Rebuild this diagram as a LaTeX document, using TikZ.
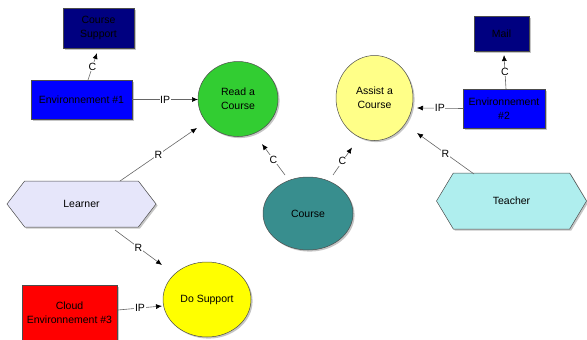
\documentclass[tikz,border=0pt]{standalone}
\usepackage{fontspec}
\setmainfont{Liberation Sans}
\usetikzlibrary{arrows.meta,shapes.geometric,shapes.symbols,shadows}
\definecolor{navyb}{RGB}{0,0,128}
\definecolor{blueb}{RGB}{0,0,255}
\definecolor{greenc}{RGB}{50,205,50}
\definecolor{ltyellow}{RGB}{255,255,136}
\definecolor{tealc}{RGB}{56,142,142}
\definecolor{lavend}{RGB}{230,230,250}
\definecolor{paleturq}{RGB}{175,238,238}
\definecolor{redb}{RGB}{255,0,0}
\definecolor{yellowc}{RGB}{255,255,0}
\begin{document}
\begin{tikzpicture}[x=1pt,y=-1pt,
  shp/.style={draw=black!70, line width=0.5pt, inner sep=1pt, align=center,
    font=\fontsize{10.5}{14}\selectfont,
    drop shadow={shadow xshift=1.6pt, shadow yshift=-1.6pt, fill=black!45, opacity=0.5}},
  boxn/.style={shp, rectangle},
  ell/.style={shp, ellipse},
  hexa/.style={shp, signal, signal to=west and east, signal from=nowhere},
  conn/.style={draw=black!60, line width=0.6pt, -{Latex[length=6pt,width=5pt,color=black]}},
  lbl/.style={fill=white, inner sep=0.6pt, font=\fontsize{10.5}{12}\selectfont}]
\useasboundingbox (0,0) rectangle (587,340);
% nodes
\node[boxn, fill=navyb, minimum width=71pt, minimum height=40pt] (csup) at (98.5,28) {Course\\Support};
\node[boxn, fill=blueb, minimum width=101pt, minimum height=39pt] (env1) at (81.5,99.5) {Environnement \#1};
\node[ell, fill=greenc, minimum width=80pt, minimum height=75pt] (read) at (238,99) {Read a\\Course};
\node[ell, fill=ltyellow, minimum width=77pt, minimum height=85pt] (assist) at (374.5,98) {Assist a\\Course};
\node[boxn, fill=navyb, minimum width=55pt, minimum height=35pt] (mail) at (501.5,33.5) {Mail};
\node[boxn, fill=blueb, minimum width=82pt, minimum height=39pt] (env2) at (504,108.5) {Environnement\\\#2};
\node[ell, fill=tealc, minimum width=90pt, minimum height=73pt] (course) at (308,213.5) {Course};
\node[hexa, fill=lavend, minimum width=149pt, minimum height=46pt, signal pointer angle=105] (learner) at (81.5,204) {Learner};
\node[hexa, fill=paleturq, minimum width=150pt, minimum height=56pt, signal pointer angle=118] (teacher) at (511.5,201) {Teacher};
\node[boxn, fill=redb, minimum width=95pt, minimum height=56pt] (cloud) at (69.5,313) {Cloud\\Environnement \#3};
\node[ell, fill=yellowc, minimum width=88pt, minimum height=75pt] (dosup) at (207,299.5) {Do Support};
% connectors
\draw[conn] ([shift={(6.5,-19.5)}]env1.center) -- node[lbl]{C} ([shift={(-1.5,25)}]csup.center);
\draw[conn] (env1.east) -- node[lbl]{IP} ([shift={(-40,0.5)}]read.center);
\draw[conn] ([shift={(38.5,-23)}]learner.center) -- node[lbl]{R} ([shift={(-41,29)}]read.center);
\draw[conn] ([shift={(-23,-38.5)}]course.center) -- node[lbl]{C} ([shift={(24,45)}]read.center);
\draw[conn] ([shift={(25,-38.5)}]course.center) -- node[lbl]{C} ([shift={(-22.5,49.5)}]assist.center);
\draw[conn] (env2.west) -- node[lbl]{IP} ([shift={(42.5,10)}]assist.center);
\draw[conn] ([shift={(2,-19.5)}]env2.center) -- node[lbl]{C} ([shift={(2.5,21.5)}]mail.center);
\draw[conn] ([shift={(-37.5,-27)}]teacher.center) -- node[lbl]{R} ([shift={(42.5,35)}]assist.center);
\draw[conn] ([shift={(33.5,26)}]learner.center) -- node[lbl]{R} ([shift={(-45,-34.5)}]dosup.center);
\draw[conn] ([shift={(48.5,-3)}]cloud.center) -- node[lbl]{IP} ([shift={(-45,6.5)}]dosup.center);
\end{tikzpicture}
\end{document}
